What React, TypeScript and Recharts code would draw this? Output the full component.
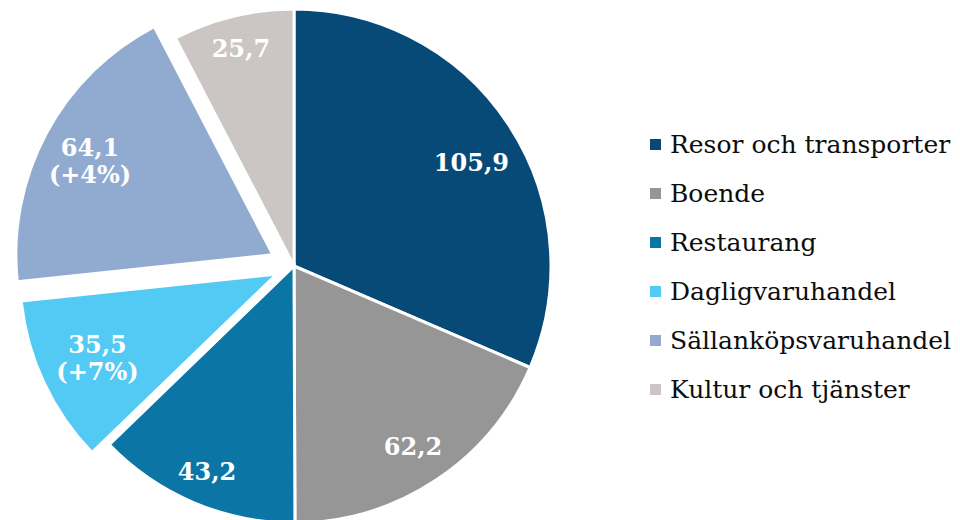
import { PieChart, Pie, Cell, Legend } from 'recharts';

const categories = [
  'Resor och transporter',
  'Boende',
  'Restaurang',
  'Dagligvaruhandel',
  'Sällanköpsvaruhandel',
  'Kultur och tjänster',
];
const values = [105.9, 62.2, 43.2, 35.5, 64.1, 25.7];
const changes = ['', '', '', '+7%', '+4%', ''];

const COLORS = ['#074977', '#969696', '#0b75a5', '#53caf4', '#90aad0', '#cbc6c4'];
// pull-out distance (px) per slice, label distance as share of radius, label angle nudge (deg)
const EXPLODE = [0, 0, 0, 19, 24, 0];
const LABEL_R = [0.8, 0.84, 0.87, 0.77, 0.8, 0.87];
const LABEL_NUDGE = [-3, 0, 0, 0, 1, 0];

const CX = 294;
const CY = 266;
const R = 257;
const RAD = Math.PI / 180;
const FONT = '"DejaVu Serif", Georgia, serif';

const data = categories.map((name, i) => ({ name, value: values[i], change: changes[i] }));
const total = values.reduce((a, b) => a + b, 0);
// mid angle of each slice, degrees clockwise from 12 o'clock
const midAngles = values.map(
  (v, i) => ((values.slice(0, i).reduce((a, b) => a + b, 0) + v / 2) / total) * 360,
);

const fmt = (v: number) => v.toFixed(1).replace('.', ',');

const renderLabel = (owner: number) => (props: any) => {
  if (props.index !== owner) return <g />;
  const { cx, cy, midAngle, outerRadius } = props;
  const r = outerRadius * LABEL_R[owner];
  const ang = (midAngle + LABEL_NUDGE[owner]) * RAD;
  const x = cx + r * Math.cos(-ang);
  const y = cy + r * Math.sin(-ang);
  const d = data[owner];
  const common = {
    fill: '#fff',
    fontFamily: FONT,
    fontWeight: 700,
    fontSize: 24,
    textAnchor: 'middle' as const,
    dominantBaseline: 'central' as const,
  };
  if (!d.change) {
    return (
      <text x={x} y={y} {...common}>
        {fmt(d.value)}
      </text>
    );
  }
  return (
    <text x={x} y={y} {...common}>
      <tspan x={x} y={y - 13.5}>{fmt(d.value)}</tspan>
      <tspan x={x} y={y + 13.5}>({d.change})</tspan>
    </text>
  );
};

function LegendBox() {
  return (
    <div style={{ fontFamily: FONT, fontSize: 25, color: '#0d0d0d' }}>
      {categories.map((c, i) => (
        <div key={c} style={{ display: 'flex', alignItems: 'center', height: 49 }}>
          <span
            style={{
              display: 'inline-block',
              width: 11,
              height: 11,
              background: COLORS[i],
              marginRight: 9,
            }}
          />
          <span style={{ whiteSpace: 'nowrap' }}>{c}</span>
        </div>
      ))}
    </div>
  );
}

export default function App() {
  return (
    <div style={{ position: 'absolute', left: 0, top: 0, width: 960, height: 520, background: '#fff' }}>
      <PieChart width={960} height={520} margin={{ top: 0, right: 0, bottom: 0, left: 0 }}>
        {data.map((_, i) => {
          const a = midAngles[i] * RAD;
          const dx = EXPLODE[i] * Math.sin(a);
          const dy = -EXPLODE[i] * Math.cos(a);
          return (
            <Pie
              key={categories[i]}
              data={data}
              dataKey="value"
              nameKey="name"
              cx={CX + dx}
              cy={CY + dy}
              outerRadius={R}
              startAngle={90}
              endAngle={-270}
              stroke="#fff"
              strokeWidth={3}
              labelLine={false}
              label={renderLabel(i)}
              isAnimationActive={false}
            >
              {data.map((d, j) => (
                <Cell
                  key={d.name}
                  fill={j === i ? COLORS[j] : 'none'}
                  stroke={j === i ? '#fff' : 'none'}
                />
              ))}
            </Pie>
          );
        })}
        <Legend
          verticalAlign="top"
          content={() => <LegendBox />}
          wrapperStyle={{ position: 'absolute', left: 650, top: 120, width: 310, height: 0 }}
        />
      </PieChart>
    </div>
  );
}
